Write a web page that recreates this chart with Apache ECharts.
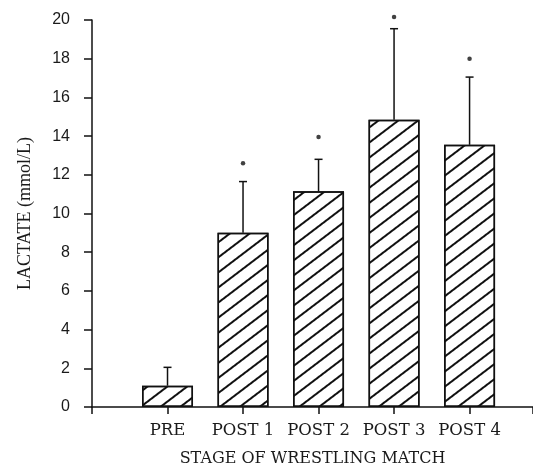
<!DOCTYPE html>
<html><head><meta charset="utf-8">
<script src="https://cdn.jsdelivr.net/npm/echarts@6/dist/echarts.min.js"></script>
<style>html,body{margin:0;padding:0;background:#fff;}#c{width:533px;height:466px;}</style>
</head><body><div id="c"></div>
<script>
const categories = ['', 'PRE', 'POST 1', 'POST 2', 'POST 3', 'POST 4'];
const meanValues = [null, 1.1, 9.0, 11.15, 14.85, 13.55];
const errorTops = [null, 2.05, 11.65, 12.8, 19.55, 17.05];
const markerY = [null, null, 12.6, 13.95, 20.15, 18.0];
const yTicks = {min: 0, max: 20, interval: 2};

const chart = echarts.init(document.getElementById('c'), null, {renderer: 'canvas'});
const serif = '"DejaVu Serif", serif';
const pairs = (arr) => arr.map((v, i) => v == null ? null : [i, v]).filter(d => d);
chart.setOption({
  animation: false,
  backgroundColor: '#fff',
  grid: {left: 92, top: 20, bottom: 59, right: 0, containLabel: false, outerBoundsMode: 'none'},
  xAxis: {
    type: 'value', min: 0, max: 5.84, interval: 1,
    axisLine: {lineStyle: {color: '#111', width: 1.5}},
    axisTick: {show: true, length: 7, lineStyle: {color: '#111', width: 1.5}},
    axisLabel: {color: '#1a1a1a', fontFamily: serif, fontSize: 16.5, margin: 15,
      formatter: (v) => (Number.isInteger(v) && categories[v]) ? categories[v] : ''},
    name: 'STAGE OF WRESTLING MATCH', nameLocation: 'middle', nameGap: 44,
    nameTextStyle: {color: '#1a1a1a', fontFamily: serif, fontSize: 16},
    splitLine: {show: false}
  },
  yAxis: {
    type: 'value', min: yTicks.min, max: yTicks.max, interval: yTicks.interval,
    axisLine: {show: true, lineStyle: {color: '#111', width: 1.5}},
    axisTick: {show: true, length: 8, lineStyle: {color: '#111', width: 1.5}},
    axisLabel: {color: '#1a1a1a', fontFamily: '"Liberation Sans", sans-serif', fontSize: 16, margin: 22},
    splitLine: {show: false},
    name: 'LACTATE (mmol/L)', nameLocation: 'middle', nameGap: 58,
    nameTextStyle: {color: '#1a1a1a', fontFamily: '"Liberation Serif", serif', fontSize: 18}
  },
  series: [
    {
      type: 'bar', data: pairs(meanValues), barWidth: 51,
      itemStyle: {
        color: '#fff', borderColor: '#111', borderWidth: 1.5,
        decal: {symbol: 'rect', symbolSize: 1, dashArrayX: [[1, 0]], dashArrayY: [1.2, 9.2], rotation: -0.65, color: '#111'}
      },
      z: 2
    },
    {
      type: 'custom', z: 3,
      data: meanValues.map((v, i) => [i, v, errorTops[i]]).filter(d => d[2] != null),
      renderItem: function (params, api) {
        const i = api.value(0);
        const base = api.coord([i, api.value(1)]);
        const top = api.coord([i, api.value(2)]);
        const hw = 4;
        return {
          type: 'group', children: [
            {type: 'line', shape: {x1: base[0], y1: base[1], x2: top[0], y2: top[1]}, style: {stroke: '#111', lineWidth: 1.5}},
            {type: 'line', shape: {x1: top[0] - hw, y1: top[1], x2: top[0] + hw, y2: top[1]}, style: {stroke: '#111', lineWidth: 1.5}}
          ]
        };
      }
    },
    {
      type: 'scatter', data: pairs(markerY), clip: false,
      symbol: 'circle', symbolSize: 4.5, itemStyle: {color: '#111'}, z: 4
    }
  ]
});
</script></body></html>
